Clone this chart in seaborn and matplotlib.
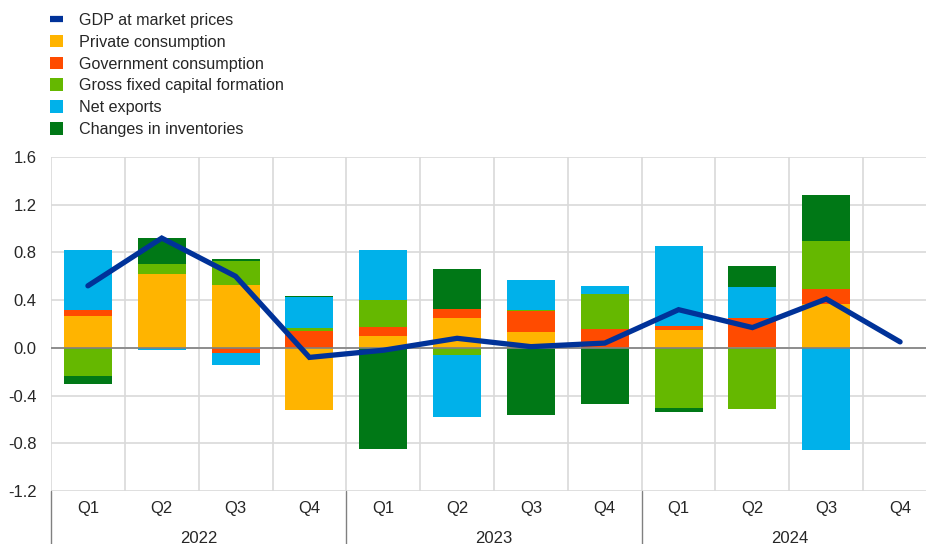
import numpy as np
import pandas as pd
import seaborn as sns
import matplotlib.pyplot as plt
import matplotlib.transforms as mtransforms
from matplotlib.patches import Patch
from matplotlib.lines import Line2D

# --- data (percentage points) ---
years = ["2022", "2023", "2024"]
quarters = ["Q1", "Q2", "Q3", "Q4"]
periods = [f"{y} {q}" for y in years for q in quarters]

gdp = [0.52, 0.92, 0.60, -0.08, -0.02, 0.08, 0.01, 0.04, 0.32, 0.17, 0.41, 0.05]
private_consumption = [0.27, 0.62, 0.53, -0.52, 0.10, 0.25, 0.13, 0.0, 0.15, 0.01, 0.37, 0.0]
government_consumption = [0.045, 0.0, -0.04, 0.14, 0.075, 0.075, 0.175, 0.155, 0.035, 0.24, 0.12, 0.0]
gross_fixed_capital = [-0.235, 0.085, 0.195, 0.025, 0.225, -0.06, 0.01, 0.30, -0.505, -0.515, 0.41, 0.0]
net_exports = [0.505, -0.02, -0.10, 0.26, 0.42, -0.52, 0.25, 0.065, 0.67, 0.26, -0.86, 0.0]
inventories = [-0.065, 0.215, 0.02, 0.01, -0.85, 0.335, -0.56, -0.47, -0.035, 0.18, 0.38, 0.0]

components = [
    ("Private consumption", private_consumption, "#FFB400"),
    ("Government consumption", government_consumption, "#FF4B00"),
    ("Gross fixed capital formation", gross_fixed_capital, "#65B800"),
    ("Net exports", net_exports, "#00B1EA"),
    ("Changes in inventories", inventories, "#007816"),
]
gdp_color = "#003299"
grid_color = "#D9D9D9"
dark_grey = "#808080"

sns.set_style("white")
plt.rcParams["font.family"] = ["Liberation Sans", "DejaVu Sans"]
plt.rcParams["font.size"] = 12
plt.rcParams["text.color"] = "#262626"
plt.rcParams["xtick.color"] = "#262626"
plt.rcParams["ytick.color"] = "#262626"

fig = plt.figure(figsize=(9.26, 5.44), dpi=100)
# plot area runs slightly past the right edge, like the original crop
ax = fig.add_axes([51 / 926, 53 / 544, 886 / 926, 334 / 544])

# stacked bars: positives stack upward, negatives downward
pos_base = np.zeros(len(periods))
neg_base = np.zeros(len(periods))
for name, vals, col in components:
    v = np.array(vals, dtype=float)
    pos = np.clip(v, 0, None)
    neg = np.clip(v, None, 0)
    sns.barplot(x=periods, y=pos, bottom=pos_base, color=col, saturation=1,
                width=0.65, errorbar=None, linewidth=0, ax=ax)
    sns.barplot(x=periods, y=neg, bottom=neg_base, color=col, saturation=1,
                width=0.65, errorbar=None, linewidth=0, ax=ax)
    pos_base += pos
    neg_base += neg

ax.axhline(0, color=dark_grey, lw=1.2, zorder=1.8)

line_df = pd.DataFrame({"idx": np.arange(len(periods)), "gdp": gdp})
sns.lineplot(data=line_df, x="idx", y="gdp", color=gdp_color, lw=3.8,
             solid_capstyle="round", solid_joinstyle="miter", ax=ax, zorder=3)

# axes, grid, ticks
ax.set_xlim(-0.5, len(periods) - 0.5)
ax.set_ylim(-1.2, 1.6)
yt = np.arange(-1.2, 1.61, 0.4)
ax.set_yticks(yt)
ax.set_yticklabels([f"{t:.1f}" for t in yt])
ax.set_xticks(np.arange(len(periods)))
ax.set_xticklabels(quarters * len(years))
ax.set_xticks(np.arange(-0.5, len(periods), 1), minor=True)
ax.tick_params(axis="both", which="both", length=0)
ax.tick_params(axis="x", pad=7)
ax.tick_params(axis="y", pad=10.5)
ax.set_xlabel("")
ax.set_ylabel("")
ax.set_axisbelow(True)
ax.grid(axis="y", which="major", color=grid_color, lw=1.2)
ax.grid(axis="x", which="minor", color=grid_color, lw=1.2)
ax.grid(axis="x", which="major", visible=False)
for s in ax.spines.values():
    s.set_visible(False)

# year separators and labels below the axis
trans = mtransforms.blended_transform_factory(ax.transData, ax.transAxes)
for i in range(len(years) + 1):
    x = i * 4 - 0.5
    ax.plot([x, x], [0, -0.25], transform=trans, clip_on=False,
            color=dark_grey, lw=1)
for i, y in enumerate(years):
    ax.text(i * 4 + 1.5, -0.141, y, transform=trans, ha="center", va="center")

# legend
handles = [Line2D([0], [0], color=gdp_color, lw=4.5, solid_capstyle="butt")]
handles += [Patch(facecolor=c, edgecolor="none") for _, _, c in components]
labels = ["GDP at market prices"] + [n for n, _, _ in components]
fig.legend(handles, labels, loc="upper left", bbox_to_anchor=(50 / 926, 1 - 13 / 544),
           frameon=False, borderaxespad=0, borderpad=0, handlelength=0.82,
           handleheight=0.82, handletextpad=0.98, labelspacing=0.42, fontsize=11.6)

fig.savefig("out.png", dpi=100)
